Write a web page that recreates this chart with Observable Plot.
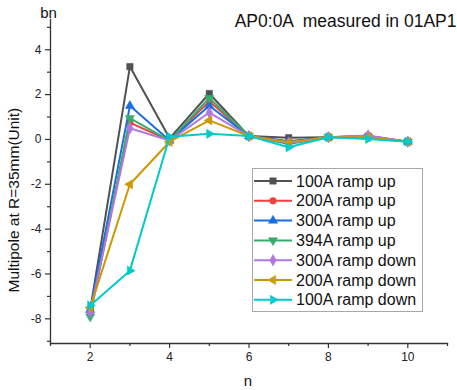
<!DOCTYPE html>
<html>
<head>
<meta charset="utf-8">
<script src="https://cdn.jsdelivr.net/npm/d3@7"></script>
<script src="https://cdn.jsdelivr.net/npm/@observablehq/plot@0.6"></script>
<style>
  html, body { margin: 0; padding: 0; background: #fff; }
  #chart { position: relative; width: 457px; height: 390px; font-family: "Liberation Sans", Arial, sans-serif; }
  #chart svg text { white-space: pre; }
  #legend { position: absolute; left: 252px; top: 168px; }
</style>
</head>
<body>
<div id="chart"></div>
<script>
// Harmonic order n
const orders = [2, 3, 4, 5, 6, 7, 8, 9, 10];

// Series names (current and ramp direction)
const seriesNames = ["100A ramp up", "200A ramp up", "300A ramp up", "394A ramp up",
                     "300A ramp down", "200A ramp down", "100A ramp down"];

// Multipole values bn at R=35mm for each series, n = 2..10
const up100   = [-7.60,  3.25,  0.05, 2.05, 0.15,  0.08, 0.10, 0.15, -0.10];
const up200   = [-7.70,  0.75, -0.05, 1.70, 0.15, -0.10, 0.10, 0.15, -0.10];
const up300   = [-7.60,  1.50, -0.05, 1.50, 0.15, -0.08, 0.10, 0.12, -0.10];
const up394   = [-7.90,  0.95, -0.05, 1.85, 0.15, -0.20, 0.10, 0.12, -0.10];
const down300 = [-7.70,  0.50, -0.05, 1.20, 0.15, -0.15, 0.10, 0.18, -0.10];
const down200 = [-7.50, -2.00, -0.10, 0.85, 0.15, -0.12, 0.10, 0.10, -0.10];
const down100 = [-7.40, -5.85,  0.12, 0.25, 0.15, -0.35, 0.10, 0.02, -0.10];
const seriesValues = [up100, up200, up300, up394, down300, down200, down100];

// Axis ticks
const xTicks = [2, 4, 6, 8, 10];
const xMinorTicks = [1, 3, 5, 7, 9, 11];
const yTicks = [-8, -6, -4, -2, 0, 2, 4];
const yMinorTicks = [-9, -7, -5, -3, -1, 1, 3, 5];

// Text
const yLabel = "Multipole at R=35mm(Unit)";
const xLabel = "n";
const topLeftLabel = "bn";
const titleText = "AP0:0A  measured in 01AP1";

const palette = ["#515151", "#F14040", "#1A6FDF", "#37AD6B", "#B177DE", "#CC9900", "#00CBCC"];

// Triangle symbol rotated by an angle (radians); 0 points up
const sqrt3 = Math.sqrt(3);
function rotatedTriangle(angle) {
  return {
    draw(context, size) {
      const y = -Math.sqrt(size / (sqrt3 * 3));
      const pts = [[0, y * 2], [-sqrt3 * y, -y], [sqrt3 * y, -y]].map(([px, py]) => [
        px * Math.cos(angle) - py * Math.sin(angle),
        px * Math.sin(angle) + py * Math.cos(angle)
      ]);
      context.moveTo(pts[0][0], pts[0][1]);
      context.lineTo(pts[1][0], pts[1][1]);
      context.lineTo(pts[2][0], pts[2][1]);
      context.closePath();
    }
  };
}
const symbols = [
  d3.symbolSquare, d3.symbolCircle, d3.symbolTriangle, rotatedTriangle(Math.PI),
  d3.symbolDiamond, rotatedTriangle(-Math.PI / 2), rotatedTriangle(Math.PI / 2)
];
const symbolRadius = [3.6, 3.4, 3.4, 3.4, 3.5, 3.4, 3.4];

const rows = seriesNames.flatMap((s, i) =>
  orders.map((n, j) => ({ series: s, n, v: seriesValues[i][j] })));

const font = "Liberation Sans, Arial, sans-serif";
const plainNumber = d => String(d);

const chart = Plot.plot({
  width: 457,
  height: 390,
  marginLeft: 50,
  marginRight: 10,
  marginTop: 19,
  marginBottom: 47,
  style: { fontFamily: font, fontSize: "12px", color: "#222", background: "#fff" },
  x: { domain: [1, 11] },
  y: { domain: [-9.1, 5.35] },
  marks: [
    Plot.axisX({ ticks: xTicks, tickSize: 5, tickPadding: 4, tickFormat: plainNumber, label: null, fontSize: 12, stroke: "#333", strokeWidth: 1.2 }),
    Plot.axisX({ ticks: xMinorTicks, tickSize: 3, tickFormat: () => "", label: null, stroke: "#333", strokeWidth: 1.2 }),
    Plot.axisY({ ticks: yTicks, tickSize: 5, tickPadding: 4, tickFormat: plainNumber, label: null, fontSize: 12, stroke: "#333", strokeWidth: 1.2 }),
    Plot.axisY({ ticks: yMinorTicks, tickSize: 3, tickFormat: () => "", label: null, stroke: "#333", strokeWidth: 1.2 }),
    Plot.frame({ anchor: "left", stroke: "#333", strokeWidth: 1.3 }),
    Plot.frame({ anchor: "bottom", stroke: "#333", strokeWidth: 1.3 }),
    // each series: line then its symbols, so later series sit on top
    ...seriesNames.flatMap((s, i) => {
      const data = rows.filter(d => d.series === s);
      return [
        Plot.line(data, { x: "n", y: "v", stroke: palette[i], strokeWidth: 2 }),
        Plot.dot(data, { x: "n", y: "v", fill: palette[i], stroke: palette[i], strokeWidth: 0.5,
                         symbol: symbols[i], r: symbolRadius[i] })
      ];
    }),
    Plot.text([topLeftLabel], { frameAnchor: "top-left", dx: -2, dy: -6, fontSize: 15, textAnchor: "middle", lineAnchor: "middle", fill: "#111" }),
    Plot.text([titleText], { frameAnchor: "top-right", dx: 9, dy: 2, fontSize: 17.5, textAnchor: "end", lineAnchor: "middle", fill: "#111" }),
    Plot.text([xLabel], { frameAnchor: "bottom", dx: -1, dy: 38, fontSize: 15, lineAnchor: "middle", fill: "#111" }),
    Plot.text([yLabel], { frameAnchor: "left", dx: -36, dy: 111, rotate: -90, fontSize: 15.5, lineAnchor: "middle", fill: "#111" })
  ]
});

const container = document.getElementById("chart");
container.appendChild(chart);

// Legend box with line + symbol samples
const rowH = 19.8;
const legW = 171, legH = 144;
const legend = d3.create("svg")
  .attr("id", "legend")
  .attr("width", legW)
  .attr("height", legH);
legend.append("rect")
  .attr("x", 0.5).attr("y", 0.5)
  .attr("width", legW - 1).attr("height", legH - 1)
  .attr("fill", "#fff").attr("stroke", "#a8a8a8").attr("stroke-width", 1);
seriesNames.forEach((s, i) => {
  const g = legend.append("g").attr("transform", `translate(0,${13 + i * rowH})`);
  g.append("line").attr("x1", 2).attr("x2", 40).attr("y1", 0).attr("y2", 0)
    .attr("stroke", palette[i]).attr("stroke-width", 2);
  const r = symbolRadius[i];
  g.append("path")
    .attr("transform", "translate(21,0)")
    .attr("d", d3.symbol(symbols[i], Math.PI * r * r)())
    .attr("fill", palette[i]).attr("stroke", palette[i]).attr("stroke-width", 0.5);
  g.append("text").attr("x", 44).attr("y", 0).attr("dy", "0.35em")
    .attr("font-family", font).attr("font-size", 16).attr("fill", "#111")
    .text(s);
});
container.appendChild(legend.node());
</script>
</body>
</html>
